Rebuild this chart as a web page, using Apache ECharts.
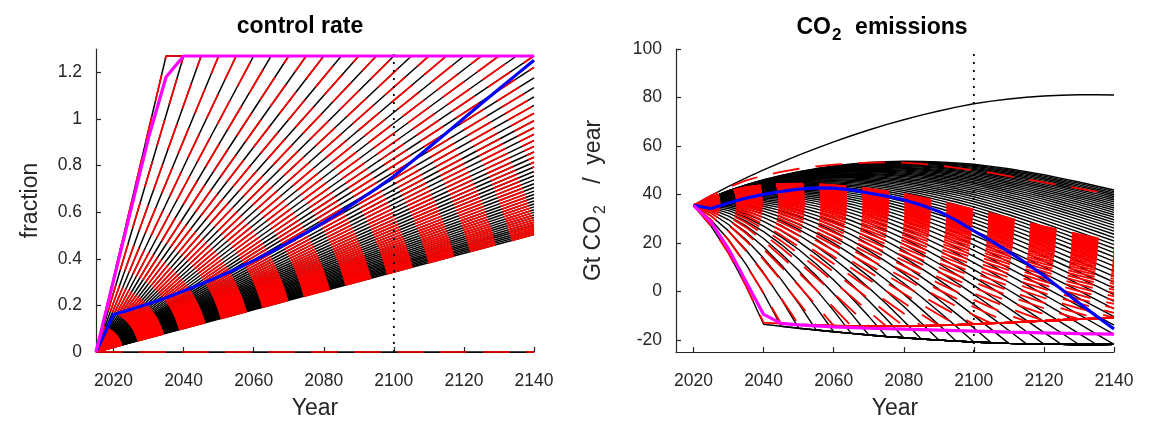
<!DOCTYPE html>
<html>
<head>
<meta charset="utf-8">
<script src="https://cdn.jsdelivr.net/npm/echarts@6/dist/echarts.min.js"></script>
<style>html,body{margin:0;padding:0;background:#fff}#c{width:1149px;height:425px}</style>
</head>
<body>
<div id="c"></div>
<script>
// ---------- data ----------
const xTicks = [2020, 2040, 2060, 2080, 2100, 2120, 2140];
const leftYTicks = [0, 0.2, 0.4, 0.6, 0.8, 1, 1.2];
const rightYTicks = [-20, 0, 20, 40, 60, 80, 100];
const startYear = 2015;
const endYear = 2140;
const capRate = 1.27;
const markYear = 2100;
// years at which each linear control-rate ramp reaches the cap
const rampEndYears = [2035, 2040, 2045, 2050, 2055, 2060, 2065, 2070, 2075, 2080, 2085, 2090, 2095, 2100,
  2105, 2110, 2115, 2120, 2125, 2130, 2135, 2140, 2145, 2150, 2155, 2160, 2165, 2170, 2175, 2180,
  2185, 2190, 2195, 2200, 2205, 2210, 2215, 2220, 2225, 2230, 2235, 2240, 2245, 2250, 2255, 2260,
  2265, 2270, 2275, 2280, 2285, 2290, 2295, 2300, 2305, 2310, 2315, 2320, 2325, 2330];
const emisYears = [2020, 2025, 2030, 2035, 2040, 2045, 2050, 2055, 2060, 2065, 2070, 2075, 2080,
  2085, 2090, 2095, 2100, 2105, 2110, 2115, 2120, 2125, 2130, 2135, 2140];
const baselineEmis = [35.5, 39.5, 43.3, 46.8, 50.1, 53.2, 56.2, 59.0, 61.7, 64.2, 66.6, 68.8, 70.8,
  72.7, 74.4, 76.0, 77.4, 78.5, 79.4, 80.1, 80.6, 80.9, 81.1, 81.1, 81.0];
const altBaselineEmis = [35.5, 39.5, 43.0, 45.8, 47.8, 49.3, 50.6, 51.6, 52.3, 52.8, 53.1, 53.2, 53.1,
  52.6, 51.9, 51.0, 50.0, 48.9, 47.6, 46.3, 45.0, 43.7, 42.4, 41.2, 40.2];
const optRateYears = [2015, 2020, 2025, 2030, 2035, 2040, 2045, 2050, 2055, 2060, 2065, 2070, 2075,
  2080, 2085, 2090, 2095, 2100, 2105, 2110, 2115, 2120, 2125, 2130, 2135, 2140];
const optRate = [0, 0.161, 0.183, 0.207, 0.233, 0.262, 0.292, 0.323, 0.356, 0.392, 0.43, 0.47, 0.512,
  0.556, 0.602, 0.651, 0.701, 0.754, 0.815, 0.877, 0.94, 1.003, 1.066, 1.128, 1.19, 1.252];
const fastRateYears = [2015, 2030, 2035, 2040, 2140];
const fastRate = [0, 0.92, 1.18, 1.27, 1.27];
const optEmis = [35.5, 34.2, 36.5, 38.5, 40.0, 41.2, 42.2, 42.7, 42.6, 41.9, 40.6, 39.3, 37.8,
  35.6, 33.0, 29.3, 25.0, 20.8, 16.3, 11.6, 6.5, 0.9, -4.8, -10.2, -15.5];
const fastEmisYears = [2020, 2025, 2030, 2035, 2040, 2045, 2050, 2060, 2070, 2080, 2090, 2100, 2110, 2120, 2130, 2140];
const fastEmis = [35.5, 28.6, 17.5, 4.0, -9.5, -13.2, -13.8, -14.6, -15.2, -15.6, -16.0, -16.4, -16.8, -17.1, -17.4, -17.6];

// ---------- build series ----------
function rampRate(T, year) {
  if (year <= startYear) return 0;
  return Math.min(capRate, capRate * (year - startYear) / (T - startYear));
}
const blackL = { color: '#000000', width: 1.5 };
const redL = { color: '#ff0000', width: 1.7, type: [27, 16] };
const blackR = { color: '#000000', width: 1.4 };
const redR = { color: '#ff0000', width: 1.8, type: [27, 16] };
const series = [];
function add(idx, data, style) {
  series.push({ type: 'line', xAxisIndex: idx, yAxisIndex: idx, data: data, symbol: 'none',
    silent: true, animation: false, lineStyle: style, clip: false });
}
function rampLine(T) {
  const pts = [[startYear, 0]];
  if (T <= endYear) { pts.push([T, capRate]); pts.push([endYear, capRate]); }
  else pts.push([endYear, rampRate(T, endYear)]);
  return pts;
}
function emisLine(T, base) {
  return emisYears.map((y, i) => [y, base[i] * (1 - rampRate(T, y - 5))]);
}
// left panel
const zeroLine = [[startYear, 0], [endYear, 0]];
add(0, zeroLine, blackL);
rampEndYears.forEach(T => add(0, rampLine(T), blackL));
add(0, zeroLine, redL);
rampEndYears.forEach(T => add(0, rampLine(T), redL));
const dotted = { color: '#000', width: 1.8, type: [2, 6] };
add(0, [[markYear, 0], [markYear, 1.3]], dotted);
add(0, optRateYears.map((y, i) => [y, optRate[i]]), { color: '#0000ff', width: 3.2 });
add(0, fastRateYears.map((y, i) => [y, fastRate[i]]), { color: '#ff00ff', width: 3.2 });
// right panel
rampEndYears.forEach(T => add(1, emisLine(T, baselineEmis), blackR));
add(1, emisYears.map((y, i) => [y, baselineEmis[i]]), blackR);
rampEndYears.forEach(T => add(1, emisLine(T, altBaselineEmis), redR));
add(1, emisYears.map((y, i) => [y, altBaselineEmis[i]]), redR);
add(1, [[markYear, -25], [markYear, 100]], dotted);
add(1, emisYears.map((y, i) => [y, optEmis[i]]), { color: '#0000ff', width: 3.2 });
add(1, fastEmisYears.map((y, i) => [y, fastEmis[i]]), { color: '#ff00ff', width: 3.2 });

// ---------- axes ----------
const FONT = 'Liberation Sans, Arial, sans-serif';
const axisCol = '#262626';
function xAx(idx) {
  return { type: 'value', gridIndex: idx, min: startYear, max: endYear,
    name: 'Year', nameLocation: 'middle', nameGap: 45,
    nameTextStyle: { fontSize: 23, color: axisCol, fontFamily: FONT },
    axisLine: { show: true, onZero: false, lineStyle: { color: axisCol, width: 1.2 } },
    axisTick: { show: true, inside: true, length: 5, customValues: xTicks, lineStyle: { color: axisCol, width: 1.2 } },
    axisLabel: { customValues: xTicks, fontSize: 17.5, color: axisCol, margin: 20, fontFamily: FONT,
      formatter: v => String(v) },
    splitLine: { show: false } };
}
function yAx(idx, min, max, ticks, name, gap) {
  return { type: 'value', gridIndex: idx, min: min, max: max,
    name: name, nameLocation: 'middle', nameGap: gap,
    nameTextStyle: { fontSize: 23, color: axisCol, fontFamily: FONT,
      rich: { n: { fontSize: 23, color: axisCol, fontFamily: FONT },
              s: { fontSize: 16, color: axisCol, fontFamily: FONT, padding: [14, 2, 0, 2] } } },
    axisLine: { show: true, onZero: false, lineStyle: { color: axisCol, width: 1.2 } },
    axisTick: { show: true, inside: true, length: 5, customValues: ticks, lineStyle: { color: axisCol, width: 1.2 } },
    axisLabel: { customValues: ticks, fontSize: 17.5, color: axisCol, margin: 14, fontFamily: FONT,
      formatter: v => String(v) },
    splitLine: { show: false } };
}

const chart = echarts.init(document.getElementById('c'), null, { renderer: 'canvas' });
chart.setOption({
  animation: false,
  backgroundColor: '#ffffff',
  grid: [
    { left: 96, top: 49, width: 438, height: 304 },
    { left: 676, top: 49, width: 438, height: 304 }
  ],
  xAxis: [xAx(0), xAx(1)],
  yAxis: [
    yAx(0, 0, 1.3, leftYTicks, 'fraction', 54),
    yAx(1, -25, 100, rightYTicks, '{n|Gt CO}{s|2}{n|   /  year}', 67)
  ],
  graphic: [
    { type: 'text', x: 300, y: 27, style: { text: 'control rate', fill: '#000',
      font: 'bold 23px Liberation Sans, Arial, sans-serif', align: 'center', verticalAlign: 'middle' } },
    { type: 'text', x: 882, y: 28, style: { text: '{b|CO}{s|2}{b|  emissions}', fill: '#000', align: 'center', verticalAlign: 'middle',
      rich: { b: { fontSize: 23, fontWeight: 'bold', fontFamily: FONT, fill: '#000' },
              s: { fontSize: 17, fontWeight: 'bold', fontFamily: FONT, fill: '#000', padding: [14, 1, 0, 1] } } } }
  ],
  series: series
});
</script>
</body>
</html>
